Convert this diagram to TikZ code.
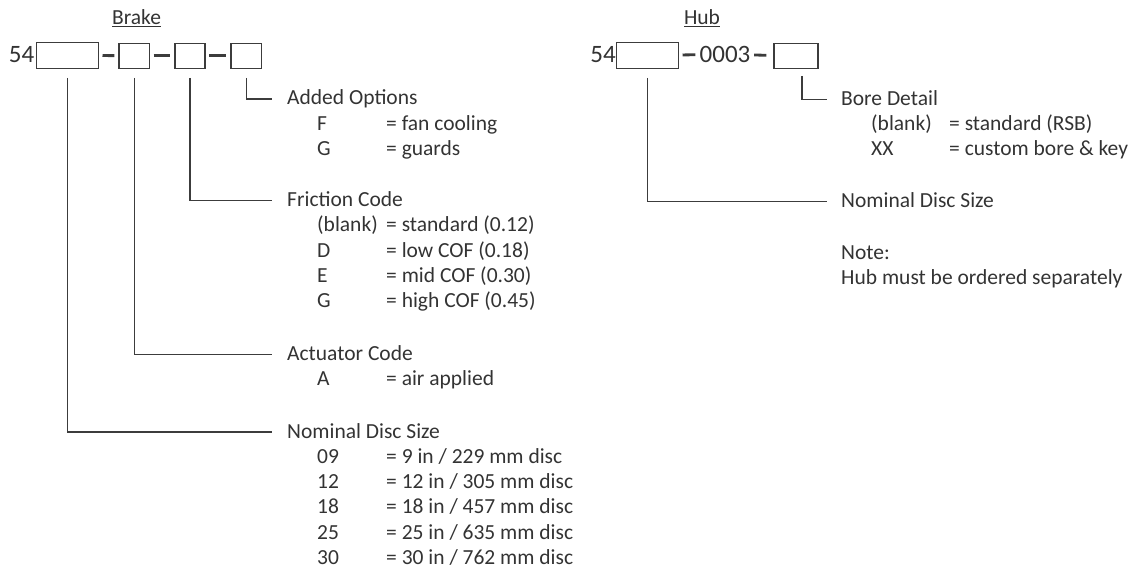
\documentclass[tikz,border=0pt]{standalone}
\usepackage{fontspec}
\setmainfont{Carlito}
\usetikzlibrary{positioning}
\definecolor{inkcol} {RGB}{51,51,51}
\definecolor{linecol}{RGB}{60,60,60}

\begin{document}
\begin{tikzpicture}[x=1pt,y=-1pt,
  every node/.style={text=inkcol},
  slot/.style ={rectangle,draw=linecol,line width=1.4pt,inner sep=0pt,
                minimum height=25pt},
  code/.style ={inner sep=0pt,anchor=base east,font=\fontsize{25}{30}\selectfont},
  title/.style={inner sep=0pt,anchor=base,font=\fontsize{21.5}{25}\selectfont},
  row/.style  ={inner sep=0pt,anchor=west,text height=16pt,text depth=4pt,
                font=\fontsize{21.5}{25}\selectfont},
  hyph/.style ={linecol,line width=2.8pt,shorten <=3.5pt,shorten >=4pt},
  leg/.style  ={linecol,line width=1.2pt}
]
\useasboundingbox (0,0) rectangle (1131,569);

% brake code
\node[title] (brk) at (136.5,25) {\underline{Brake}};
\node[slot,minimum width=61.6pt,minimum height=26pt] (sz) at (67.5,55.3) {};
\node[slot,minimum width=30.3pt] (act)  at (134.2,55.8) {};
\node[slot,minimum width=30pt]   (fric) at (190,55.8)   {};
\node[slot,minimum width=30.7pt] (opt)  at (246.4,55.8) {};
\node[code] (pre) at (34.5,62.5) {54};

\draw[hyph] (sz)   -- (act);
\draw[hyph] (act)  -- (fric);
\draw[hyph] (fric) -- (opt);

\node[row] (optH)  at (287,99)    {Added Options};
\node[row] (optF)  at (317,124.3) {F};
\node[row] (optFv) at (386,124.3) {= fan cooling};
\node[row] (optG)  at (317,149.6) {G};
\node[row] (optGv) at (386,149.6) {= guards};

\node[row] (fricH)  at (287,200.5) {Friction Code};
\node[row] (fricS)  at (317,225.8) {(blank)};
\node[row] (fricSv) at (386,225.8) {= standard (0.12)};
\node[row] (fricD)  at (317,251.1) {D};
\node[row] (fricDv) at (386,251.1) {= low COF (0.18)};
\node[row] (fricE)  at (317,276.4) {E};
\node[row] (fricEv) at (386,276.4) {= mid COF (0.30)};
\node[row] (fricG)  at (317,301.7) {G};
\node[row] (fricGv) at (386,301.7) {= high COF (0.45)};

\node[row] (actH)  at (287,354.2) {Actuator Code};
\node[row] (actA)  at (317,379.5) {A};
\node[row] (actAv) at (386,379.5) {= air applied};

\node[row] (szH) at (287,432)   {Nominal Disc Size};
\node[row] (sz1)  at (317,457.3) {09};
\node[row] (sz1v) at (386,457.3) {= 9 in / 229 mm disc};
\node[row] (sz2)  at (317,482.6) {12};
\node[row] (sz2v) at (386,482.6) {= 12 in / 305 mm disc};
\node[row] (sz3)  at (317,507.9) {18};
\node[row] (sz3v) at (386,507.9) {= 18 in / 457 mm disc};
\node[row] (sz4)  at (317,533.2) {25};
\node[row] (sz4v) at (386,533.2) {= 25 in / 635 mm disc};
\node[row] (sz5)  at (317,558.5) {30};
\node[row] (sz5v) at (386,558.5) {= 30 in / 762 mm disc};

\foreach \s/\h in {opt/optH,fric/fricH,act/actH,sz/szH}
  \draw[leg] ([yshift=-9pt]\s.south) |- ([xshift=-15pt]\h.west);

% hub code
\node[title] (hub) at (702,25) {\underline{Hub}};
\node[slot,minimum width=61.6pt,minimum height=26pt] (hsz) at (647.5,55.3) {};
\node[code] (hpre) at (616,62.5) {54};
\node[code,anchor=base] (hser) at (725,62.5) {0003};
\node[slot,minimum width=44pt] (hbore) at (796,55.8) {};

\draw[hyph] (hsz)  -- (hser);
\draw[hyph,shorten >=7pt] (hser) -- (hbore);

\node[row] (boreH)  at (841,99.3)  {Bore Detail};
\node[row] (boreS)  at (871,124.6) {(blank)};
\node[row] (boreSv) at (949,124.6) {= standard (RSB)};
\node[row] (boreX)  at (871,149.9) {XX};
\node[row] (boreXv) at (949,149.9) {= custom bore \& key};

\node[row] (hszH)  at (841,201.7) {Nominal Disc Size};
\node[row] (noteA) at (841,253.3) {Note:};
\node[row] (noteB) at (841,278.6) {Hub must be ordered separately};

\draw[leg] ([xshift=6pt,yshift=-7pt]hbore.south) |- ([xshift=-14pt]boreH.west);
\draw[leg] ([yshift=-9pt]hsz.south) |- ([xshift=-14pt]hszH.west);
\end{tikzpicture}
\end{document}
